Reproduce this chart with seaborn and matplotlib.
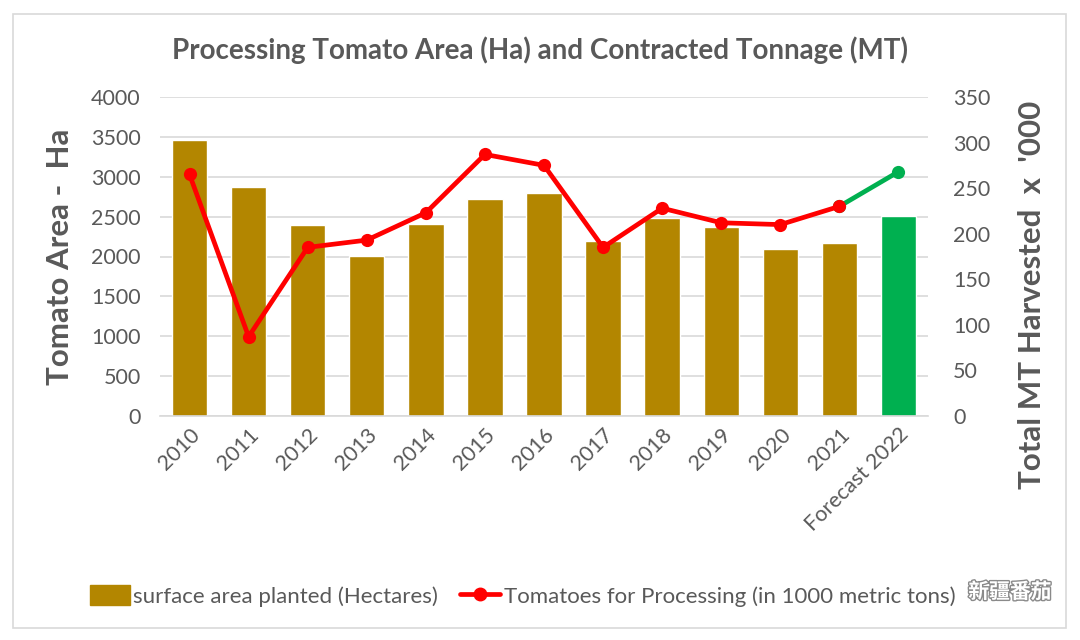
import numpy as np
import pandas as pd
import matplotlib
matplotlib.use("Agg")
import matplotlib.pyplot as plt
import matplotlib.patheffects as pe
from matplotlib.patches import Rectangle, Patch
from matplotlib.lines import Line2D
import seaborn as sns

categories = ["2010", "2011", "2012", "2013", "2014", "2015", "2016",
              "2017", "2018", "2019", "2020", "2021", "Forecast 2022"]
area_ha = [3460, 2870, 2390, 2010, 2410, 2720, 2795, 2200, 2480, 2370, 2090, 2175, 2505]
tonnage_k = [265, 87, 185, 193, 223, 287, 275, 185, 228, 212, 210, 230, 268]
left_ticks = [0, 500, 1000, 1500, 2000, 2500, 3000, 3500, 4000]
right_ticks = [0, 50, 100, 150, 200, 250, 300, 350]

title = "Processing Tomato Area (Ha) and Contracted Tonnage (MT)"
left_label = "Tomato Area -  Ha"
right_label = "Total MT Harvested  x  '000"
bar_legend = "surface area planted (Hectares)"
line_legend = "Tomatoes for Processing (in 1000 metric tons)"
watermark = "新疆番茄"

GOLD = "#B38600"
GREEN = "#00B050"
RED = "#FF0000"
GREY = "#595959"

sns.set_theme(style="white")
plt.rcParams["font.family"] = ["Lato", "Noto Sans CJK SC", "DejaVu Sans"]

fig = plt.figure(figsize=(10.8, 6.4), dpi=100)
ax = fig.add_axes([160/1080, 1-416/640, (928-160)/1080, (416-97)/640])

df = pd.DataFrame({"category": categories, "area": area_ha, "tonnage": tonnage_k})
df["kind"] = ["forecast" if c.startswith("Forecast") else "actual" for c in categories]
df["pos"] = np.arange(len(categories))

sns.barplot(data=df, x="category", y="area", hue="kind", order=categories,
            palette={"actual": GOLD, "forecast": GREEN}, width=0.6,
            dodge=False, legend=False, ax=ax, saturation=1, zorder=2)

ax.set_ylim(0, 4000)
ax.set_yticks(left_ticks)
ax.set_xlim(-0.5, len(categories) - 0.5)
ax.yaxis.grid(True, color="#D9D9D9", linewidth=1.2, zorder=0)
ax.set_axisbelow(True)
for s in ["top", "right", "left"]:
    ax.spines[s].set_visible(False)
ax.spines["bottom"].set_color("#D9D9D9")
ax.spines["bottom"].set_linewidth(1.2)
ax.tick_params(axis="y", colors=GREY, labelsize=15.5, length=0, pad=14)
ax.tick_params(axis="x", colors=GREY, labelsize=15.5, length=0, pad=6)
ax.set_xticks(range(len(categories)))
ax.set_xticklabels(categories, rotation=45, ha="right", rotation_mode="anchor")
ax.set_xlabel("")
ax.set_ylabel(left_label, fontsize=22.5, fontweight="bold", color=GREY, labelpad=12)

ax2 = ax.twinx()
actual = df[df["kind"] == "actual"]
tail = df.iloc[-2:]
sns.lineplot(data=tail, x="pos", y="tonnage", color=GREEN, linewidth=3.4,
             marker="o", markersize=9.5, markeredgewidth=0, ax=ax2, zorder=3)
sns.lineplot(data=actual, x="pos", y="tonnage", color=RED, linewidth=3.4,
             marker="o", markersize=9.5, markeredgewidth=0, ax=ax2, zorder=4)
ax2.set_ylim(0, 350)
ax2.set_yticks(right_ticks)
ax2.set_xlim(-0.5, len(categories) - 0.5)
for s in ["top", "right", "left", "bottom"]:
    ax2.spines[s].set_visible(False)
ax2.grid(False)
ax2.tick_params(axis="y", colors=GREY, labelsize=15.5, length=0, pad=18)
ax2.set_xlabel("")
ax2.set_ylabel(right_label, fontsize=22.5, fontweight="bold", color=GREY, labelpad=10)
ax2.yaxis.set_label_coords(1.117, 0.38)

fig.text(0.5, 1-50/640, title, ha="center", va="center", fontsize=20,
         fontweight="bold", color=GREY)

handles = [Patch(facecolor=GOLD, edgecolor=GOLD),
           Line2D([0], [0], color=RED, linewidth=3.4, marker="o", markersize=9)]
leg = fig.legend(handles, [bar_legend, line_legend], loc="center left",
                 bbox_to_anchor=(70/1080, 1-596/640), ncol=2, frameon=False,
                 fontsize=16, handlelength=1.8, handleheight=1.0,
                 handletextpad=0.15, columnspacing=1.0)
for t in leg.get_texts():
    t.set_color(GREY)

fig.text(1010/1080, 1-592/640, watermark, ha="center", va="center", fontsize=15,
         color="white", fontweight="bold",
         path_effects=[pe.withStroke(linewidth=2, foreground="#8a8a8a")])

fig.patches.append(Rectangle((13/1080, 1-628/640), (1066-13)/1080, (628-14)/640,
                             transform=fig.transFigure, fill=False,
                             edgecolor="#D9D9D9", linewidth=1.2))

fig.savefig("out.png", dpi=100)
